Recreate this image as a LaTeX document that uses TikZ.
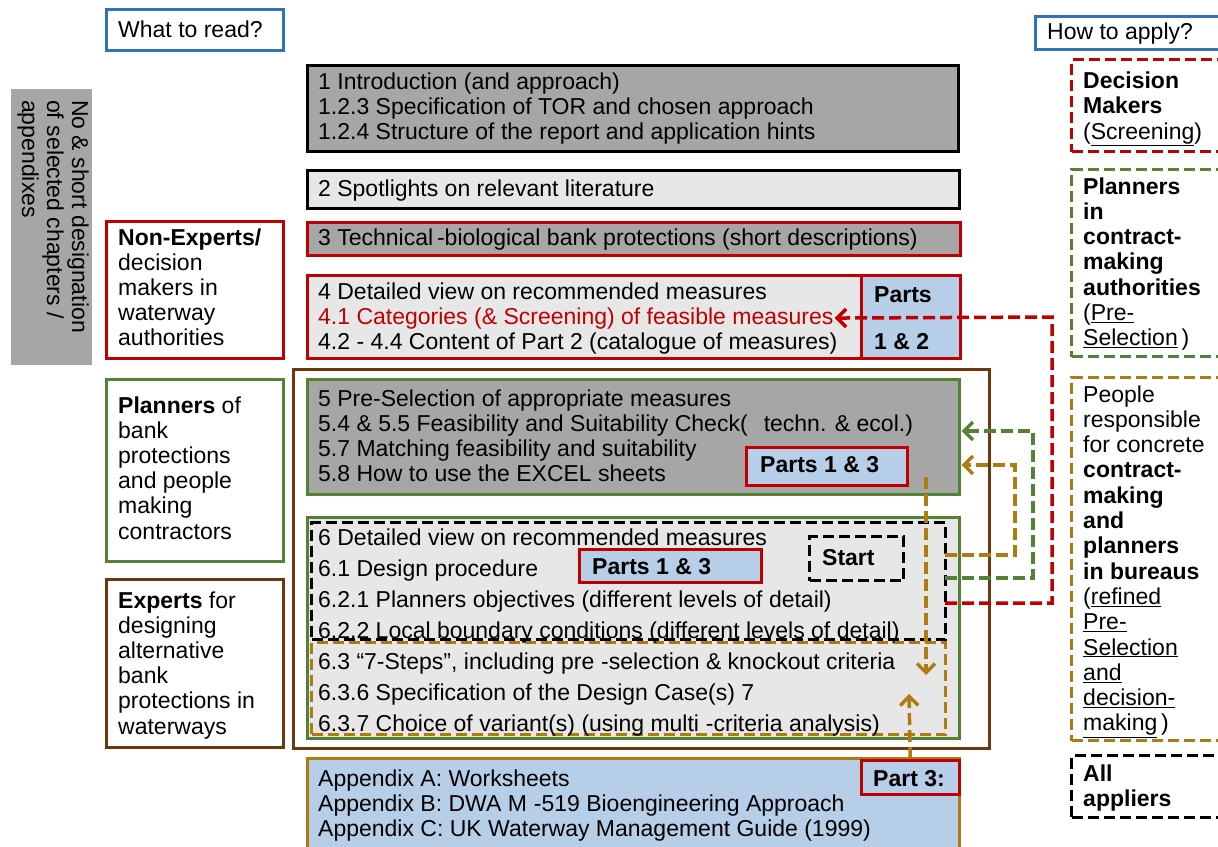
\documentclass[tikz,border=0pt]{standalone}
\usepackage{fontspec}
\setmainfont{Liberation Sans}
\usetikzlibrary{arrows.meta}
\definecolor{cred}{RGB}{192,0,0}
\definecolor{cgreen}{RGB}{84,130,53}
\definecolor{cbrown}{RGB}{112,55,10}
\definecolor{cgold}{RGB}{176,122,16}
\definecolor{cblue}{RGB}{46,117,182}
\definecolor{fillgray}{RGB}{166,166,166}
\definecolor{filllight}{RGB}{231,231,231}
\definecolor{fillblue}{RGB}{183,206,232}
\newcommand{\ul}[1]{\underline{#1}}
\newcommand{\fs}{\fontsize{23}{25}\selectfont}
\begin{document}
\begin{tikzpicture}[x=1pt,y=-1pt,
  box/.style={draw, line width=2.5pt, inner sep=0pt, anchor=north west},
  dbox/.style={box, line width=3pt, dash pattern=on 11pt off 5pt},
  txt/.style={anchor=base west, inner sep=0pt, font=\fs},
  btxt/.style={txt, font=\fs\bfseries},
  link/.style={line width=3.5pt, dash pattern=on 12pt off 5pt, -{Straight Barb[length=9pt,width=18pt]}}]
\useasboundingbox (0,0) rectangle (1218,846);

% headings
\node[box, draw=cblue, minimum width=177pt, minimum height=41pt] (what) at (105,8) {};
\node[txt] (whatt) at (118,37) {What to read?};
\node[box, draw=cblue, minimum width=190pt, minimum height=33pt] (how) at (1034,15) {};
\node[txt] (howt) at (1047,39) {How to apply?};

% rotated side label
\node[anchor=north west, inner sep=0pt, fill=fillgray, minimum width=81pt, minimum height=276pt] (side) at (11,89) {};
\node[anchor=north west, inner sep=0pt, rotate=-90, align=left, font=\fs] (sidet) at (89,100)
  {No \& short designation\\of selected chapters /\\appendixes};

% chapter boxes
\node[box, fill=fillgray, minimum width=651pt, minimum height=86pt] (b1) at (306,64) {};
\foreach \t [count=\i] in {{1 Introduction (and approach)},{1.2.3 Specification of TOR and chosen approach},{1.2.4 Structure of the report and application hints}}
  \node[txt] (b1l\i) at (318,{89+25*(\i-1)}) {\t};

\node[box, fill=filllight, minimum width=652pt, minimum height=38pt] (b2) at (306,169) {};
\node[txt] (b2l1) at (318,196) {2 Spotlights on relevant literature};

\node[box, draw=cred, fill=fillgray, minimum width=653pt, minimum height=33pt] (b3) at (306,221) {};
\node[txt] (b3l1) at (318,245) {3 Technical\,-biological bank protections (short descriptions)};

\node[box, draw=cred, fill=filllight, minimum width=653pt, minimum height=83pt] (b4) at (306,274) {};
\node[box, draw=cred, fill=fillblue, minimum width=99pt, minimum height=83pt] (p4) at (860,274) {};
\node[txt] (b4l1) at (318,299) {4 Detailed view on recommended measures};
\node[txt, text=cred] (b4l2) at (318,324) {4.1 Categories (\& Screening) of feasible measures};
\node[txt] (b4l3) at (318,349) {4.2 - 4.4 Content of Part 2 (catalogue of measures)};
\node[btxt] (p4a) at (874,302) {Parts};
\node[btxt] (p4b) at (874,349) {1 \& 2};

\node[box, draw=cbrown, line width=3pt, minimum width=696pt, minimum height=379pt] (frame) at (292,368) {};

\node[box, draw=cgreen, fill=fillgray, minimum width=652pt, minimum height=115pt] (b5) at (306,378) {};
\foreach \t [count=\i] in {{5 Pre-Selection of appropriate measures},{5.4 \& 5.5 Feasibility and Suitability Check(\hspace{0.7em}techn. \& ecol.)},{5.7 Matching feasibility and suitability},{5.8 How to use the EXCEL sheets}}
  \node[txt] (b5l\i) at (318,{406+25*(\i-1)}) {\t};
\node[box, draw=cred, fill=fillblue, minimum width=161pt, minimum height=38pt] (p5) at (745,446) {};
\node[btxt] (p5t) at (760,472) {Parts 1 \& 3};

\node[box, draw=cgreen, fill=filllight, minimum width=652pt, minimum height=221pt] (b6) at (306,516) {};
\node[dbox, minimum width=634pt, minimum height=117pt] (d6) at (310,521) {};
\node[dbox, draw=cgold, minimum width=634pt, minimum height=92pt] (g6) at (310,641) {};
\node[dbox, minimum width=94pt, minimum height=44pt] (start) at (808,535) {};
\node[btxt] (startt) at (822,565) {Start};
\node[box, draw=cred, fill=fillblue, minimum width=182pt, minimum height=33pt] (p6) at (578,548) {};
\node[btxt] (p6t) at (592,574) {Parts 1 \& 3};
\foreach \t [count=\i] in {{6 Detailed view on recommended measures},{6.1 Design procedure},{6.2.1 Planners objectives (different levels of detail)},{6.2.2 Local boundary conditions (different levels of detail)},{6.3 “7-Steps”, including pre\hspace{0.3em}-selection \& knockout criteria},{6.3.6 Specification of the Design Case(s) 7},{6.3.7 Choice of variant(s) (using multi\hspace{0.3em}-criteria analysis)}}
  \node[txt] (b6l\i) at (318,{545+31*(\i-1)}) {\t};

\node[box, draw=cgold, fill=fillblue, minimum width=652pt, minimum height=100pt] (app) at (306,757) {};
\node[box, draw=cred, fill=fillblue, minimum width=98pt, minimum height=34pt] (p3) at (860,759) {};
\node[btxt] (p3t) at (873,786) {Part 3:};
\foreach \t [count=\i] in {{Appendix A: Worksheets},{Appendix B: DWA M\hspace{0.3em}-519 Bioengineering Approach},{Appendix C: UK Waterway Management Guide (1999)}}
  \node[txt] (appl\i) at (318,{786+25*(\i-1)}) {\t};

% reader groups
\node[box, draw=cred, minimum width=177pt, minimum height=137pt] (ne) at (105,220) {};
\foreach \t [count=\i] in {{\textbf{Non-Experts/}},{decision},{makers in},{waterway},{authorities}}
  \node[txt] (nel\i) at (118,{245+25*(\i-1)}) {\t};
\node[box, draw=cgreen, minimum width=177pt, minimum height=182pt] (pl) at (105,378) {};
\foreach \t [count=\i] in {{\textbf{Planners} of},{bank},{protections},{and people},{making},{contractors}}
  \node[txt] (pll\i) at (118,{413+25.2*(\i-1)}) {\t};
\node[box, draw=cbrown, minimum width=177pt, minimum height=168pt] (ex) at (105,578) {};
\foreach \t [count=\i] in {{\textbf{Experts} for},{designing},{alternative},{bank},{protections in},{waterways}}
  \node[txt] (exl\i) at (118,{608+25.2*(\i-1)}) {\t};

% applier groups
\node[dbox, draw=cred, minimum width=160pt, minimum height=92pt] (dm) at (1070,58) {};
\foreach \t [count=\i] in {{\textbf{Decision}},{\textbf{Makers}},{(\ul{Screening})}}
  \node[txt] (dml\i) at (1083,{88+25.5*(\i-1)}) {\t};
\node[dbox, draw=cgreen, minimum width=160pt, minimum height=187pt] (pa) at (1070,168) {};
\foreach \t [count=\i] in {{\textbf{Planners}},{\textbf{in}},{\textbf{contract-}},{\textbf{making}},{\textbf{authorities}},{(\ul{Pre-}},{\ul{Selection}\,)}}
  \node[txt] (pal\i) at (1083,{194+25.3*(\i-1)}) {\t};
\node[dbox, draw=cgold, minimum width=160pt, minimum height=363pt] (pr) at (1070,376) {};
\foreach \t [count=\i] in {{People},{responsible},{for concrete},{\textbf{contract-}},{\textbf{making}},{\textbf{and}},{\textbf{planners}},{\textbf{in bureaus}},{(\ul{refined}},{\ul{Pre-}},{\ul{Selection}},{\ul{and}},{\ul{decision-}},{\ul{making}\,)}}
  \node[txt] (prl\i) at (1083,{402+25.3*(\i-1)}) {\t};
\node[dbox, minimum width=160pt, minimum height=62pt] (aa) at (1070,754) {};
\foreach \t [count=\i] in {{\textbf{All}},{\textbf{appliers}}}
  \node[txt] (aal\i) at (1083,{781+25*(\i-1)}) {\t};

% links from the start block back to the earlier chapters
\coordinate (rs) at (945,603);
\coordinate (rc) at (1052,317);
\coordinate (gs) at (945,578);
\coordinate (gc) at (1033,431);
\coordinate (os) at (945,555);
\coordinate (oc) at (1015,465);
\coordinate (dtop) at (926,477);
\coordinate (dend) at (926,675);
\coordinate (uend) at (909,694);
\draw[link, cred] (rs) -| (rc) -- ([xshift=1pt]b4l2.east);
\draw[link, cgreen] (gs) -| (gc) -- ([xshift=1pt]b5.east |- gc);
\draw[link, cgold] (os) -| (oc) -- ([xshift=1pt]b5.east |- oc);
\draw[link, cgold] (dtop) -- (dend);
\draw[link, cgold] (p3.north) -- (uend);
\end{tikzpicture}
\end{document}
